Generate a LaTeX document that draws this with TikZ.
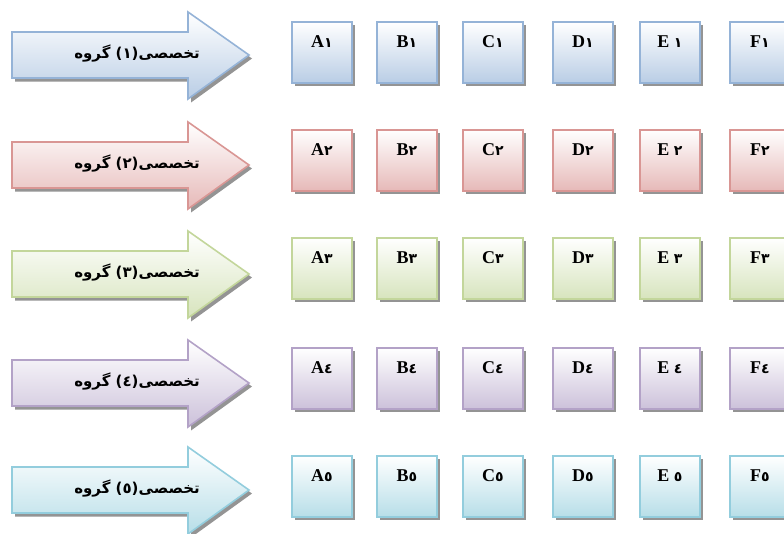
\documentclass[tikz,border=0pt]{standalone}
\usepackage{fontspec}
\setmainfont{Liberation Serif}
\newfontfamily\arabicfont[Script=Arabic]{DejaVu Sans}
\TeXXeTstate=1
\usetikzlibrary{shadows}

\definecolor{line1}{HTML}{95B3D7}\definecolor{fill1}{HTML}{B9CDE5}
\definecolor{line2}{HTML}{D99694}\definecolor{fill2}{HTML}{E6B9B8}
\definecolor{line3}{HTML}{C3D69B}\definecolor{fill3}{HTML}{D7E4BD}
\definecolor{line4}{HTML}{B3A2C7}\definecolor{fill4}{HTML}{CCC1DA}
\definecolor{line5}{HTML}{93CDDD}\definecolor{fill5}{HTML}{B7DEE8}

\newcommand{\tilelabel}[2]{\textbf{#1}{\arabicfont\bfseries\fontsize{14}{16}\selectfont#2}}
\newcommand{\grouplabel}[1]{\beginR تخصصی(#1) گروه\endR}

\begin{document}
\begin{tikzpicture}[x=1pt,y=-1pt,
    softshadow/.style={drop shadow={shadow xshift=3pt,shadow yshift=-3.5pt,fill=black,opacity=0.42}},
    grparrow/.style={draw=line#1,line width=1.6pt,top color=white,bottom color=fill#1,softshadow},
    grptext/.style={font=\arabicfont\bfseries\fontsize{15}{17}\selectfont,inner sep=0pt},
    tile/.style={draw=line#1,line width=1.8pt,top color=white,bottom color=fill#1,softshadow,
      anchor=north west,minimum width=60pt,minimum height=61pt,inner xsep=0pt,inner ysep=5pt,
      text height=21pt,text depth=30pt,font=\fontsize{18}{20}\selectfont}]
  \useasboundingbox (0,0) rectangle (784,533);

  % group arrows
  \draw[grparrow=1] (12,32) -- (188,32) -- (188,12) -- (249,55) -- (188,99) -- (188,78) -- (12,78) -- cycle;
  \draw[grparrow=2] (12,142) -- (188,142) -- (188,122) -- (249,165) -- (188,209) -- (188,188) -- (12,188) -- cycle;
  \draw[grparrow=3] (12,251) -- (188,251) -- (188,231) -- (249,274) -- (188,318) -- (188,297) -- (12,297) -- cycle;
  \draw[grparrow=4] (12,360) -- (188,360) -- (188,340) -- (249,383) -- (188,427) -- (188,406) -- (12,406) -- cycle;
  \draw[grparrow=5] (12,467) -- (188,467) -- (188,447) -- (249,490) -- (188,534) -- (188,513) -- (12,513) -- cycle;
  \node[grptext] (g1) at (137,54) {\grouplabel{١}};
  \node[grptext] (g2) at (137,164) {\grouplabel{٢}};
  \node[grptext] (g3) at (137,273) {\grouplabel{٣}};
  \node[grptext] (g4) at (137,382) {\grouplabel{٤}};
  \node[grptext] (g5) at (137,489) {\grouplabel{٥}};

  % row 1
  \node[tile=1] (a1) at (291,21) {\tilelabel{A}{١}};
  \node[tile=1] (b1) at (376,21) {\tilelabel{B}{١}};
  \node[tile=1] (c1) at (462,21) {\tilelabel{C}{١}};
  \node[tile=1] (d1) at (552,21) {\tilelabel{D}{١}};
  \node[tile=1] (e1) at (639,21) {\tilelabel{E }{١}};
  \node[tile=1] (f1) at (729,21) {\tilelabel{F}{١}};
  % row 2
  \node[tile=2] (a2) at (291,129) {\tilelabel{A}{٢}};
  \node[tile=2] (b2) at (376,129) {\tilelabel{B}{٢}};
  \node[tile=2] (c2) at (462,129) {\tilelabel{C}{٢}};
  \node[tile=2] (d2) at (552,129) {\tilelabel{D}{٢}};
  \node[tile=2] (e2) at (639,129) {\tilelabel{E }{٢}};
  \node[tile=2] (f2) at (729,129) {\tilelabel{F}{٢}};
  % row 3
  \node[tile=3] (a3) at (291,237) {\tilelabel{A}{٣}};
  \node[tile=3] (b3) at (376,237) {\tilelabel{B}{٣}};
  \node[tile=3] (c3) at (462,237) {\tilelabel{C}{٣}};
  \node[tile=3] (d3) at (552,237) {\tilelabel{D}{٣}};
  \node[tile=3] (e3) at (639,237) {\tilelabel{E }{٣}};
  \node[tile=3] (f3) at (729,237) {\tilelabel{F}{٣}};
  % row 4
  \node[tile=4] (a4) at (291,347) {\tilelabel{A}{٤}};
  \node[tile=4] (b4) at (376,347) {\tilelabel{B}{٤}};
  \node[tile=4] (c4) at (462,347) {\tilelabel{C}{٤}};
  \node[tile=4] (d4) at (552,347) {\tilelabel{D}{٤}};
  \node[tile=4] (e4) at (639,347) {\tilelabel{E }{٤}};
  \node[tile=4] (f4) at (729,347) {\tilelabel{F}{٤}};
  % row 5
  \node[tile=5] (a5) at (291,455) {\tilelabel{A}{٥}};
  \node[tile=5] (b5) at (376,455) {\tilelabel{B}{٥}};
  \node[tile=5] (c5) at (462,455) {\tilelabel{C}{٥}};
  \node[tile=5] (d5) at (552,455) {\tilelabel{D}{٥}};
  \node[tile=5] (e5) at (639,455) {\tilelabel{E }{٥}};
  \node[tile=5] (f5) at (729,455) {\tilelabel{F}{٥}};
\end{tikzpicture}
\end{document}
